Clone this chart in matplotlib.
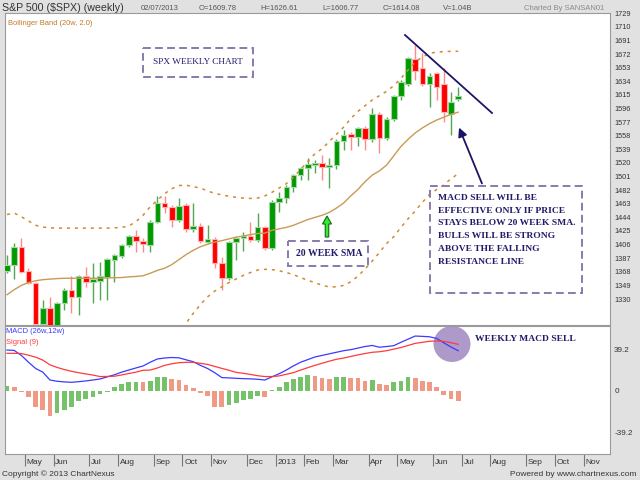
import numpy as np
import pandas as pd
import matplotlib
matplotlib.use('Agg')
import matplotlib.pyplot as plt
from matplotlib.patches import Rectangle, Ellipse, FancyArrow, FancyArrowPatch
from matplotlib.lines import Line2D
from matplotlib.transforms import Affine2D

# ---------------- data (weekly S&P 500) ----------------
first_week = '2012-04-20'
opens = [1369, 1377.5, 1403, 1369, 1352, 1295, 1318, 1278, 1325, 1342,
         1333, 1362, 1354, 1355.6, 1361, 1384.5, 1390.5, 1405.4, 1418.4, 1411,
         1405.4, 1438, 1464.5, 1459, 1440.3, 1461, 1427.3, 1432, 1410, 1413.4,
         1380, 1359, 1409.2, 1415.6, 1418, 1412.4, 1430, 1401.6, 1466, 1471.5,
         1487, 1503, 1513.4, 1517, 1519.5, 1515, 1517, 1551, 1560, 1556.7,
         1568.4, 1553, 1588.4, 1554.4, 1581.4, 1613.5, 1631, 1665, 1652, 1631,
         1645, 1630, 1589, 1609.78]
highs = [1392, 1408, 1415, 1373, 1354, 1329, 1333, 1326, 1345, 1362,
         1364, 1375, 1380, 1382, 1387, 1393, 1407, 1420, 1426, 1415,
         1440, 1474, 1474, 1462, 1470.6, 1464, 1463.7, 1435.7, 1433.4, 1416,
         1389, 1411, 1417, 1424, 1438, 1449.7, 1432, 1468, 1480, 1489,
         1505, 1515, 1526.5, 1524, 1531, 1526.5, 1553, 1566, 1563, 1570,
         1571, 1596.3, 1591, 1584, 1615, 1636, 1668.4, 1684.7, 1673, 1645,
         1647.5, 1652, 1619.5, 1626.61]
lows = [1366, 1358, 1366, 1351, 1291, 1291, 1266, 1267, 1315, 1310,
        1308, 1347, 1325, 1329, 1329, 1354, 1387, 1403, 1396, 1396,
        1396, 1436, 1450, 1431, 1437, 1424, 1424, 1408, 1407.8, 1373,
        1342.6, 1357, 1384.5, 1397.5, 1409, 1409, 1398, 1398.4, 1452, 1463.7,
        1480, 1496, 1496, 1505.5, 1496, 1484.6, 1511, 1538, 1538, 1543.7,
        1538, 1550, 1534.3, 1552, 1579, 1608, 1628, 1635.9, 1627, 1598.6,
        1608, 1577.6, 1559, 1606.77]
closes = [1377.5, 1403, 1368, 1353, 1295, 1318, 1278, 1325, 1342, 1333,
          1362, 1354, 1357.5, 1362, 1385.4, 1391.5, 1405.4, 1418.4, 1411, 1406.4,
          1438, 1464.5, 1459, 1440.3, 1460, 1427.3, 1432, 1411, 1413.4, 1380,
          1359, 1409.2, 1415.6, 1418, 1412.4, 1430, 1401.6, 1466, 1471.5, 1487,
          1503, 1513.4, 1518, 1519.5, 1515, 1517, 1551, 1559, 1556.7, 1568.4,
          1553, 1588.4, 1554.4, 1581.4, 1613.5, 1633.5, 1666, 1649, 1630, 1641.5,
          1625.5, 1591.6, 1605.6, 1614.08]
sma20 = [1336, 1343, 1349, 1353, 1355.5, 1357, 1357.8, 1358.5, 1359, 1359,
         1359, 1359, 1359, 1359, 1359.5, 1359.7, 1360, 1361, 1361.5, 1362.5,
         1366, 1370, 1373, 1378, 1385, 1392, 1398, 1403, 1406.5, 1409.5,
         1411.5, 1414, 1416.5, 1418, 1420, 1421.5, 1422, 1426, 1428, 1430,
         1433, 1437, 1441, 1444, 1447, 1451, 1457, 1464, 1474, 1483,
         1494, 1503, 1509, 1517, 1530, 1543, 1553, 1562, 1569, 1575,
         1580, 1584, 1588, 1591]
bb_upper = [1448, 1450, 1445, 1439, 1433, 1430.5, 1429.5, 1429, 1429, 1429,
            1429, 1429, 1429, 1429, 1429, 1429.5, 1430, 1432, 1438, 1447,
            1459, 1468, 1477, 1484, 1488.5, 1489, 1487, 1485, 1481, 1477.5,
            1475.5, 1473.5, 1472, 1471, 1470.5, 1471, 1474, 1479, 1485, 1491,
            1500, 1511, 1522, 1533, 1540, 1550, 1560, 1570, 1582, 1592,
            1600, 1608, 1614, 1620, 1628, 1638, 1650, 1661, 1668, 1673,
            1675, 1675.5, 1676, 1676]
bb_lower = [1224, 1236, 1253, 1267, 1278, 1283.5, 1286, 1288, 1289, 1289,
            1289, 1289, 1289, 1289, 1290, 1290, 1290, 1290, 1285, 1278,
            1273, 1272, 1269, 1272, 1281.5, 1296, 1310, 1322, 1333, 1341,
            1347, 1353, 1358, 1363, 1367, 1370.5, 1371.5, 1371, 1369.5, 1367,
            1364, 1360, 1356, 1353, 1349, 1347, 1347, 1349, 1354, 1362,
            1372, 1383, 1395, 1407.5, 1417, 1430, 1442, 1453, 1465, 1476,
            1483, 1489.5, 1498, 1505]
macd = [39.1, 38.8, 34, 27.5, 21.5, 18, 10.5, 9.3, 8.7, 8.3,
        8.9, 9.6, 10.5, 11.5, 13.5, 15.5, 18, 20, 22, 23.9,
        27.5, 30.6, 31.5, 32, 31.7, 29.8, 28, 24.5, 21.5, 17.5,
        12.8, 12.5, 12.1, 11.8, 11.6, 11.2, 10.5, 13.5, 16.5, 20,
        24, 27.5, 30, 32.5, 34, 35.5, 37, 38.5, 39.5, 41,
        42.5, 43.5, 41.8, 42.5, 43.3, 46.5, 49.5, 52.5, 52.2, 51.8,
        50.2, 46, 42, 38.5]
signal = [36, 36, 35.8, 34.2, 32.3, 29.5, 25, 22.5, 20.5, 18.8,
          17.5, 16.3, 15.2, 13.8, 13.9, 14.1, 15.3, 16.7, 18, 19.8,
          20, 22, 24.5, 26, 27, 27.4, 27.4, 26.5, 25.4, 23.5,
          21.6, 19.8, 17.8, 16.9, 15.8, 14.6, 13.8, 13.8, 14.4, 16,
          17.5, 20, 22.3, 24.5, 26.5, 28.5, 30.3, 31.5, 33, 34.5,
          35.8, 37, 37.5, 38.5, 40, 41.5, 43.5, 45.5, 46.5, 47.5,
          47.8, 47.4, 46.2, 44.6]
hist = [4.8, 3.5, -0.7, -6, -15, -18.2, -23.6, -21.4, -18.2, -15,
        -10, -7.6, -5.4, -3.2, -0.5, 3.5, 6.4, 8.8, 9.0, 8.3,
        9.9, 13.7, 13.8, 11.5, 10.5, 5.7, 2.9, -1.6, -4.5, -15,
        -15.6, -13.4, -11.1, -8.6, -7.6, -4.5, -6, 0.5, 4.1, 8.3,
        11.1, 13.7, 15.3, 14.3, 12.7, 11.5, 13, 13.7, 12.1, 12.0,
        9.8, 10.1, 6.4, 5.7, 8.3, 9.9, 13.7, 12.7, 9.9, 8.3,
        4.1, -3.8, -8, -9.2]
price_ticks = [1330, 1349, 1368, 1387, 1406, 1425, 1444, 1463, 1482, 1501,
               1520, 1539, 1558, 1577, 1596, 1615, 1634, 1653, 1672, 1691,
               1710, 1729]
macd_ticks = [-39.2, 0, 39.2]
header = [("02/07/2013", 141), ("O=1609.78", 199), ("H=1626.61", 260),
          ("L=1606.77", 322), ("C=1614.08", 383), ("V=1.04B", 443)]
box_lines = ["MACD SELL WILL BE", "EFFECTIVE ONLY IF PRICE",
             "STAYS BELOW 20 WEEK SMA.", "BULLS WILL BE STRONG",
             "ABOVE THE FALLING", "RESISTANCE LINE"]

# ---------------- figure ----------------
W, H = 640, 480
BG = '#e1e1e1'
fig = plt.figure(figsize=(6.4, 4.8), dpi=100, facecolor=BG)
pxT = Affine2D().scale(1 / W, -1 / H).translate(0, 1) + fig.transFigure
SANS = 'Liberation Sans'
SERIF = 'Liberation Serif'
NAVY = '#221a6a'

n = len(closes)
x = np.arange(n)
weeks = pd.date_range(first_week, periods=90, freq='W-FRI')
xlim = (-0.28, 84.2)

ax = fig.add_axes([5 / W, 1 - 325 / H, 605 / W, 312 / H])
ax2 = fig.add_axes([5 / W, 1 - 454 / H, 605 / W, 128 / H])

for a in (ax, ax2):
    a.set_facecolor('white')
    for s in a.spines.values():
        s.set_color('#9a9a9a')
        s.set_linewidth(0.8)
    a.set_xlim(*xlim)

# ---- candles ----
o = np.array(opens); c = np.array(closes)
hi = np.array(highs); lo = np.array(lows)
up = c >= o
body_col = np.where(up, '#009a00', '#ff0000')
edge_col = np.where(up, '#a6d6a6', '#ffb4b4')
wick_col = np.where(up, '#52a852', '#ff8a8a')
ax.vlines(x, lo, hi, colors=wick_col, linewidth=1.0, zorder=2)
bottoms = np.minimum(o, c)
heights = np.maximum(np.abs(c - o), 1.2)
ax.bar(x, heights, bottom=bottoms, width=0.78, color=body_col,
       edgecolor=edge_col, linewidth=0.8, zorder=3)

# ---- bollinger ----
ax.plot(x, sma20, color='#c99a55', lw=1.0, zorder=4)
ax.plot(x, bb_upper, color='#d08a30', lw=1.1, ls=(0, (2, 3.2)), zorder=4)
ax.plot(x, bb_lower, color='#d08a30', lw=1.1, ls=(0, (2, 3.2)), zorder=4)

ax.set_ylim(1293.7, 1729.5)
ax.yaxis.tick_right()
ax.set_yticks(price_ticks)
ax.set_yticklabels([str(v) for v in price_ticks])
ax.tick_params(axis='y', length=0, pad=3, labelsize=5.3, labelcolor='#333333')
ax.tick_params(axis='x', length=0, labelbottom=False)
for t in ax.get_yticklabels():
    t.set_fontfamily(SANS)
ax.text(0.005, 0.965, 'Bollinger Band (20w, 2.0)', transform=ax.transAxes,
        fontsize=5.4, color='#c07a28', family=SANS, va='center', ha='left')

# ---- MACD ----
hcol = ['#76c26a' if (i == 0 or hist[i] >= hist[i - 1]) else '#f09a86'
        for i in range(n)]
ax2.bar(x, hist, width=0.66, color=hcol, zorder=2)
ax2.plot(x, macd, color='#3a3aff', lw=0.9, zorder=3)
ax2.plot(x, signal, color='#ff3a3a', lw=0.9, zorder=3)
ax2.set_ylim(-60.2, 62.1)
ax2.yaxis.tick_right()
ax2.set_yticks(macd_ticks)
ax2.set_yticklabels(['-39.2', '0', '39.2'])
ax2.tick_params(axis='y', length=0, pad=3, labelsize=5.9, labelcolor='#333333')
for t in ax2.get_yticklabels():
    t.set_fontfamily(SANS)
ax2.text(0.002, 0.955, 'MACD (26w,12w)', transform=ax2.transAxes, fontsize=5.4,
         color='#3a3aff', family=SANS, va='center')
ax2.text(0.002, 0.875, 'Signal (9)', transform=ax2.transAxes, fontsize=5.4,
         color='#ff3a3a', family=SANS, va='center')

# month ticks: first weekly bar of each month
pos, labs = [], []
for i in range(1, len(weeks)):
    if weeks[i].month != weeks[i - 1].month:
        p = i + 0.5
        if p < xlim[1]:
            pos.append(p)
            labs.append('2013' if weeks[i].month == 1 else weeks[i].strftime('%b'))
ax2.set_xticks(pos)
ax2.tick_params(axis='x', direction='out', length=8.6, width=0.8,
                color='#777777', labelbottom=False)
for p, l in zip(pos, labs):
    ax2.annotate(l, xy=(p, 0), xycoords=('data', 'axes fraction'),
                 xytext=(1.2, -6), textcoords='offset points', fontsize=6,
                 family=SANS, color='#333333', ha='left', va='center')

# purple circle
ax2.add_patch(Ellipse((452, 344), 37, 36, transform=pxT, facecolor='#a48fc6',
                      edgecolor='none', alpha=0.9, zorder=1.5, clip_on=False))
fig.text(475, 339, 'WEEKLY MACD SELL', transform=pxT, fontsize=6.8,
         family=SERIF, weight='bold', color=NAVY, va='center', ha='left')

# ---------------- header / footer ----------------
fig.text(2, 8, 'S&P 500 ($SPX) (weekly)', transform=pxT, fontsize=7.7,
         family=SANS, color='#333333', va='center')
for s, xp in header:
    fig.text(xp, 8.5, s, transform=pxT, fontsize=5.5, family=SANS,
             color='#555555', va='center')
fig.text(604, 8.5, 'Charted By SANSAN01', transform=pxT, fontsize=5.5,
         family=SANS, color='#8a8a8a', va='center', ha='right')
fig.text(2, 474.5, 'Copyright \u00a9 2013 ChartNexus', transform=pxT,
         fontsize=6, family=SANS, color='#333333', va='center')
fig.text(637, 474.5, 'Powered by www.chartnexus.com', transform=pxT,
         fontsize=6, family=SANS, color='#333333', va='center', ha='right')

# ---------------- annotations ----------------
dash_kw = dict(transform=pxT, fill=False, edgecolor='#8a7aac', lw=1.4,
               ls=(0, (4, 2.2)))
fig.add_artist(Rectangle((143, 48), 110, 29, **dash_kw))
fig.text(198, 62.5, 'SPX WEEKLY CHART', transform=pxT, fontsize=6.7,
         family=SERIF, color=NAVY, ha='center', va='center')

fig.add_artist(Rectangle((288, 241), 80, 25, **dash_kw))
fig.text(329, 254, '20 WEEK SMA', transform=pxT, fontsize=7.0, family=SERIF,
         weight='bold', color=NAVY, ha='center', va='center')

fig.add_artist(Rectangle((430, 186), 152, 107, **dash_kw))
for k, line in enumerate(box_lines):
    fig.text(438, 198 + k * 12.7, line, transform=pxT, fontsize=6.8,
             family=SERIF, weight='bold', color=NAVY, ha='left', va='center')

# falling resistance line
fig.add_artist(Line2D([405, 492], [35, 113], transform=pxT, color='#1e1466',
                      lw=1.3))
# arrow to the SMA
fig.add_artist(FancyArrowPatch((483, 186), (458, 125), transform=pxT,
                               arrowstyle='-|>', mutation_scale=13,
                               color='#1e1466', lw=1.3))
# green up arrow
fig.add_artist(FancyArrow(327, 237, 0, -21, width=3.5, head_width=9,
                          head_length=8, length_includes_head=True,
                          transform=pxT, facecolor='#2ef02e',
                          edgecolor='#156615', lw=0.8))

fig.savefig('out.png', dpi=100, facecolor=BG)
